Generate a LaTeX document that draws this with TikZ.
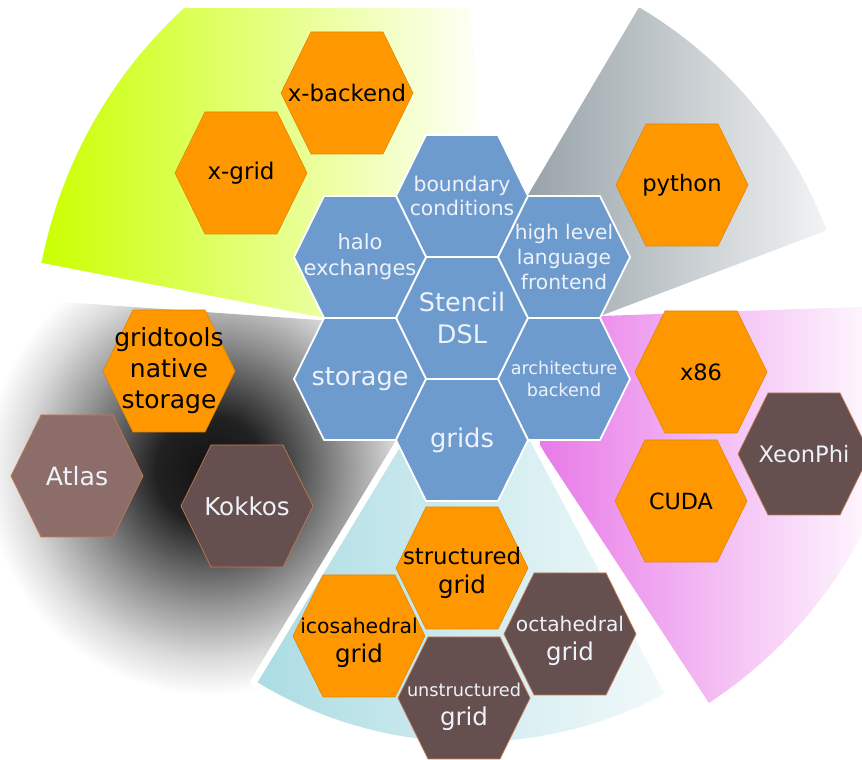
\documentclass[tikz,border=0pt]{standalone}
\usepackage{fontspec}
\setmainfont{DejaVu Sans}

\definecolor{cblue}{RGB}{110,155,206}
\definecolor{corange}{RGB}{255,152,0}
\definecolor{cbrown}{RGB}{101,79,79}
\definecolor{catlas}{RGB}{141,109,105}
\definecolor{cedge}{RGB}{196,120,80}
\definecolor{ctxtw}{RGB}{238,242,250}
\definecolor{cyellow}{RGB}{202,255,0}
\definecolor{cgray}{RGB}{150,161,167}
\definecolor{cpink}{RGB}{232,122,232}
\definecolor{ccyan}{RGB}{170,220,227}
\definecolor{ccyanend}{RGB}{246,251,251}
\definecolor{hcore}{gray}{0.07}
\definecolor{hin}{gray}{0.13}
\definecolor{hmid}{gray}{0.58}
\definecolor{hrim}{gray}{0.86}
\definecolor{hout}{gray}{1}

% dark halo behind the storage libraries
\pgfdeclareradialshading{darkhalo}{\pgfpointorigin}{%
  color(0bp)=(hcore); color(6bp)=(hin); color(15bp)=(hmid);
  color(21bp)=(hrim); color(25bp)=(hout); color(50bp)=(hout)}

% one hexagonal cell: #1 cell style, #2 node name, #3/#4 centre, #5 text style, #6 text
\newcommand\hexcell[6]{%
  \path[#1] (#3,#4) ++(-66,0) -- ++(30,61) -- ++(72,0) -- ++(30,-61)
        -- ++(-30,-61) -- ++(-72,0) -- cycle;
  \node[lbl,#5] (#2) at (#3,#4) {#6};}
\newcommand\fsz[1]{\fontsize{#1}{1.22\dimexpr#1pt\relax}\selectfont}

\tikzset{
  cellblue/.style={fill=cblue, draw=white, line width=1.8pt, line join=round},
  cellorange/.style={fill=corange, draw=corange!88!black, line width=0.6pt},
  cellbrown/.style={fill=cbrown, draw=cedge, line width=0.7pt},
  cellatlas/.style={fill=catlas, draw=cedge, line width=0.7pt},
  lbl/.style={align=center, inner sep=0pt},
  wtxt/.style={text=ctxtw},
  ktxt/.style={text=black},
  gridlbl/.style={font=\fontsize{24.5}{29}\selectfont},
}

\begin{document}
\begin{tikzpicture}[x=1pt,y=1pt]
\useasboundingbox (0,0) rectangle (862,760);

% ---- coloured sectors behind the cells ----
\begin{scope}
  \clip (0,0) rectangle (862,751);
  % storage libraries (dark halo)
  \begin{scope}
    \clip (462,430) -- ++(176:520) arc[start angle=176, end angle=250, radius=520] -- cycle;
    \shade[shading=darkhalo] (210,290) circle (225);
  \end{scope}
  % front-end tools (yellow-green)
  \begin{scope}
    \clip (500,408) -- ++(95:467) arc[start angle=95, end angle=169, radius=467] -- cycle;
    \shade[left color=cyellow, right color=white] (40,400) rectangle (490,760);
  \end{scope}
  % language bindings (grey)
  \begin{scope}
    \clip (415,374) -- ++(20.7:440) arc[start angle=20.7, end angle=59.4, radius=440] -- cycle;
    \shade[left color=cgray, right color=white] (520,370) rectangle (870,760);
  \end{scope}
  % hardware targets (pink)
  \begin{scope}
    \clip (458,439) -- ++(-56.7:457) arc[start angle=-56.7, end angle=2, radius=457] -- cycle;
    \shade[left color=cpink, right color=white] (540,0) rectangle (890,460);
  \end{scope}
  % grid types (cyan), set off from the dark halo by a white rim
  \path[draw=white, line width=14pt, line join=round]
    (471,430) -- ++(238.8:412) arc[start angle=238.8, end angle=298, radius=412] -- cycle;
  \begin{scope}
    \clip (471,430) -- ++(238.8:412) arc[start angle=238.8, end angle=298, radius=412] -- cycle;
    \shade[left color=ccyan, right color=ccyanend] (250,0) rectangle (690,440);
  \end{scope}
\end{scope}

% ---- core: stencil DSL and its components ----
\hexcell{cellblue}{stencil}{462}{442}{wtxt,font=\fsz{25.5}}{Stencil\\DSL}
\hexcell{cellblue}{boundary}{462}{564}{wtxt,font=\fsz{20.3}}{boundary\\conditions}
\hexcell{cellblue}{halo}{360}{503}{wtxt,font=\fsz{21}}{halo\\exchanges}
\hexcell{cellblue}{highlevel}{564}{503}{wtxt,font=\fsz{20.2}}{high level\\language\\frontend}
\hexcell{cellblue}{storage}{360}{381}{wtxt,font=\fsz{25.5}}{storage}
\hexcell{cellblue}{arch}{564}{381}{wtxt,font=\fsz{17.6}}{architecture\\backend}
\hexcell{cellblue}{grids}{462}{320}{wtxt,font=\fsz{25.8}}{grids}

% ---- front ends ----
\hexcell{cellorange}{xbackend}{347}{667}{ktxt,font=\fsz{22.8}}{x-backend}
\hexcell{cellorange}{xgrid}{241}{587}{ktxt,font=\fsz{23}}{x-grid}
\hexcell{cellorange}{python}{682}{575}{ktxt,font=\fsz{22.7}}{python}

% ---- storage ----
\hexcell{cellorange}{gtstorage}{169}{389}{ktxt,font=\fontsize{25}{31}\selectfont}{gridtools\\native\\storage}
\hexcell{cellatlas}{atlas}{77}{284}{wtxt,font=\fsz{25.2}}{Atlas}
\hexcell{cellbrown}{kokkos}{247}{254}{wtxt,font=\fsz{24.6}}{Kokkos}

% ---- architectures ----
\hexcell{cellorange}{xeightysix}{701}{388}{ktxt,font=\fsz{22.5}}{x86}
\hexcell{cellbrown}{xeonphi}{804}{306}{wtxt,font=\fsz{22.6}}{XeonPhi}
\hexcell{cellorange}{cuda}{681}{259}{ktxt,font=\fsz{22.3}}{CUDA}

% ---- grids ----
\hexcell{cellorange}{structured}{462}{192}{ktxt,gridlbl,yshift=-5}{{\fontsize{22.8}{28}\selectfont structured}\\grid}
\hexcell{cellorange}{icosahedral}{359}{124}{ktxt,gridlbl,yshift=-7}{{\fontsize{20.4}{25}\selectfont icosahedral}\\grid}
\hexcell{cellbrown}{octahedral}{570}{126}{wtxt,gridlbl,yshift=-7}{{\fontsize{20.2}{25}\selectfont octahedral}\\grid}
\hexcell{cellbrown}{unstructured}{464}{62}{wtxt,gridlbl,yshift=-9}{{\fontsize{17.7}{22}\selectfont unstructured}\\grid}
\end{tikzpicture}
\end{document}
